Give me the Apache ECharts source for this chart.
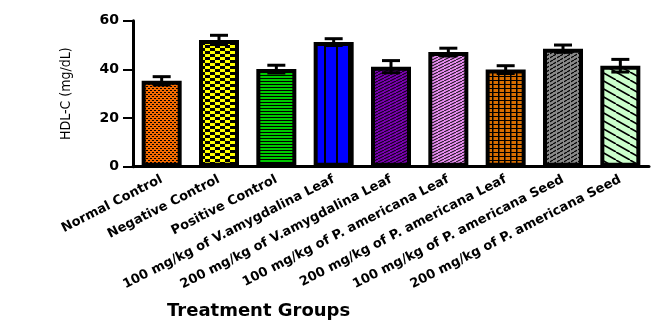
<!DOCTYPE html>
<html>
<head>
<meta charset="utf-8">
<script src="https://cdn.jsdelivr.net/npm/echarts@6/dist/echarts.min.js"></script>
<style>
html,body{margin:0;padding:0;background:#fff;}
#chart{width:666px;height:331px;}
</style>
</head>
<body>
<div id="chart"></div>
<script>
var categories = [
  "Normal Control",
  "Negative Control",
  "Positive Control",
  "100 mg/kg of V.amygdalina Leaf",
  "200 mg/kg of V.amygdalina Leaf",
  "100 mg/kg of P. americana Leaf",
  "200 mg/kg of P. americana Leaf",
  "100 mg/kg of P. americana Seed",
  "200 mg/kg of P. americana Seed"
];
var meanValues = [35.3, 52.1, 40.1, 51.2, 41.1, 47.1, 39.9, 48.5, 41.5];
var semValues  = [1.7, 1.9, 1.6, 1.4, 2.5, 1.6, 1.6, 1.5, 2.6];
var yTicks = [0, 20, 40, 60];
var xTitle = 'Treatment Groups';
var yTitle = 'HDL-C (mg/dL)';

function makePattern(w, h, bg, draw) {
  var c = document.createElement('canvas');
  c.width = w; c.height = h;
  var ctx = c.getContext('2d');
  ctx.fillStyle = bg;
  ctx.fillRect(0, 0, w, h);
  ctx.fillStyle = '#000';
  ctx.strokeStyle = '#000';
  draw(ctx, w, h);
  return { image: c, repeat: 'repeat' };
}
function diag(ctx, w, h, lw, up) {
  ctx.lineWidth = lw;
  ctx.beginPath();
  for (var k = -2; k <= 2; k++) {
    if (up) { ctx.moveTo(k * w, h); ctx.lineTo(k * w + w, 0); }
    else { ctx.moveTo(k * w, 0); ctx.lineTo(k * w + w, h); }
  }
  ctx.stroke();
}
var patterns = [
  makePattern(4, 4, '#F46A00', function (ctx) { ctx.fillRect(0, 0, 2, 1); ctx.fillRect(2, 2, 2, 1); }),
  makePattern(10, 6, '#FFFF00', function (ctx) { ctx.fillRect(0, 0, 5, 3); ctx.fillRect(5, 3, 5, 3); }),
  makePattern(4, 3, '#00C800', function (ctx) { ctx.fillRect(0, 0, 4, 1); }),
  makePattern(12, 4, '#0000FF', function (ctx) { ctx.fillRect(0, 0, 2, 4); }),
  makePattern(6, 3, '#7A00B0', function (ctx, w, h) { diag(ctx, w, h, 1, true); }),
  makePattern(6, 3, '#E88CF0', function (ctx, w, h) { diag(ctx, w, h, 1, true); }),
  makePattern(6, 4, '#D86E00', function (ctx) { ctx.fillRect(0, 0, 1.5, 4); ctx.fillRect(0, 0, 6, 1); }),
  makePattern(7, 4, '#8A8A8A', function (ctx, w, h) { diag(ctx, w, h, 1.2, true); ctx.fillStyle = '#8A8A8A'; ctx.fillRect(3, 0, 1, 4); }),
  makePattern(14, 8, '#CCFFCC', function (ctx, w, h) { diag(ctx, w, h, 1.6, false); })
];

var barData = meanValues.map(function (v, i) {
  return { value: v, itemStyle: { color: patterns[i] } };
});
var errData = meanValues.map(function (v, i) {
  return [i, v - semValues[i], v + semValues[i]];
});

var chart = echarts.init(document.getElementById('chart'), null, { renderer: 'canvas' });
chart.setOption({
  animation: false,
  backgroundColor: '#fff',
  grid: { left: 133, right: 17, top: 20.7, bottom: 164.3, containLabel: false },
  graphic: [
    {
      type: 'text', left: 167, top: 302,
      style: { text: xTitle, fontFamily: 'DejaVu Sans', fontWeight: 'bold', fontSize: 18, fill: '#000' }
    }
  ],
  xAxis: {
    type: 'category',
    data: categories,
    axisLine: { lineStyle: { color: '#000', width: 3 } },
    axisTick: { alignWithLabel: true, length: 5, lineStyle: { color: '#000', width: 2.5 } },
    axisLabel: { rotate: 27, interval: 0, margin: 12, fontFamily: 'DejaVu Sans', fontWeight: 'bold', fontSize: 13, color: '#000' }
  },
  yAxis: {
    type: 'value',
    min: 0, max: 60, interval: 20,
    name: yTitle,
    nameLocation: 'middle',
    nameGap: 60,
    nameRotate: 90,
    nameTextStyle: { fontFamily: 'DejaVu Sans Condensed, Liberation Sans, sans-serif', fontSize: 14, color: '#000' },
    splitLine: { show: false },
    axisLine: { show: true, lineStyle: { color: '#000', width: 3 } },
    axisTick: { show: true, inside: false, length: 10, lineStyle: { color: '#000', width: 2 } },
    axisLabel: {
      margin: 14, fontFamily: 'DejaVu Sans', fontWeight: 'bold', fontSize: 14, color: '#000',
      formatter: function (v) { return yTicks.indexOf(v) >= 0 ? String(v) : ''; }
    }
  },
  series: [
    {
      type: 'bar',
      data: barData,
      barWidth: 40,
      itemStyle: { borderColor: '#000', borderWidth: 4 }
    },
    {
      type: 'custom',
      data: errData,
      z: 5,
      renderItem: function (params, api) {
        var x = api.value(0);
        var lo = api.coord([x, api.value(1)]);
        var hi = api.coord([x, api.value(2)]);
        var half = 9;
        var style = { stroke: '#000', lineWidth: 3 };
        return {
          type: 'group',
          children: [
            { type: 'line', shape: { x1: hi[0], y1: hi[1], x2: lo[0], y2: lo[1] }, style: { stroke: '#000', lineWidth: 3 } },
            { type: 'line', shape: { x1: hi[0] - half, y1: hi[1], x2: hi[0] + half, y2: hi[1] }, style: style },
            { type: 'line', shape: { x1: lo[0] - half, y1: lo[1], x2: lo[0] + half, y2: lo[1] }, style: style }
          ]
        };
      }
    }
  ]
});
</script>
</body>
</html>
